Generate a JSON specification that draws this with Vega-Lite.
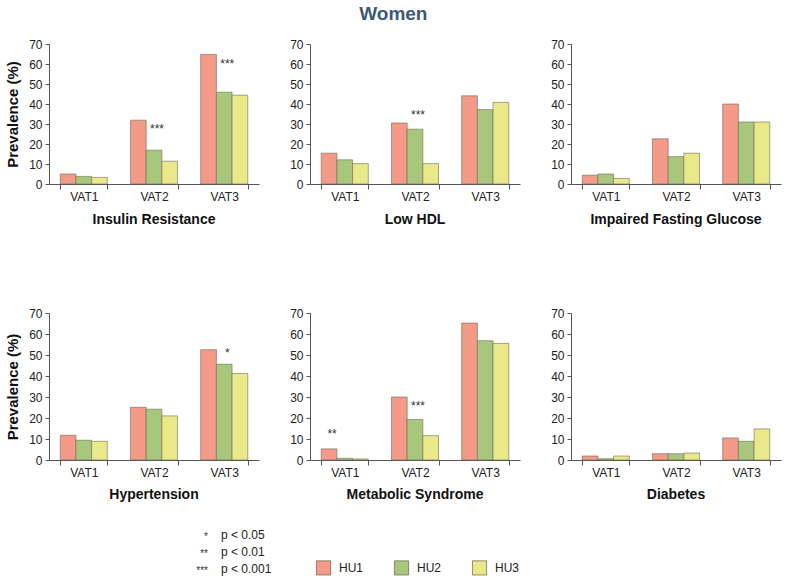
{
  "$schema": "https://vega.github.io/schema/vega-lite/v6.json",
  "padding": {"left": 5, "top": 5, "right": 5, "bottom": 5},
  "title": {"text": "Women", "fontSize": 19, "fontWeight": "bold", "color": "#3d5877", "font": "Liberation Sans", "anchor": "middle", "offset": 14},
  "datasets": {
    "bars": [
      {"panel": "Insulin Resistance", "vat": "VAT1", "hu": "HU1", "value": 5.0},
      {"panel": "Insulin Resistance", "vat": "VAT1", "hu": "HU2", "value": 3.8},
      {"panel": "Insulin Resistance", "vat": "VAT1", "hu": "HU3", "value": 3.3},
      {"panel": "Insulin Resistance", "vat": "VAT2", "hu": "HU1", "value": 31.9},
      {"panel": "Insulin Resistance", "vat": "VAT2", "hu": "HU2", "value": 16.9},
      {"panel": "Insulin Resistance", "vat": "VAT2", "hu": "HU3", "value": 11.4},
      {"panel": "Insulin Resistance", "vat": "VAT3", "hu": "HU1", "value": 64.8},
      {"panel": "Insulin Resistance", "vat": "VAT3", "hu": "HU2", "value": 45.9},
      {"panel": "Insulin Resistance", "vat": "VAT3", "hu": "HU3", "value": 44.4},
      {"panel": "Low HDL", "vat": "VAT1", "hu": "HU1", "value": 15.4},
      {"panel": "Low HDL", "vat": "VAT1", "hu": "HU2", "value": 12.1},
      {"panel": "Low HDL", "vat": "VAT1", "hu": "HU3", "value": 10.2},
      {"panel": "Low HDL", "vat": "VAT2", "hu": "HU1", "value": 30.5},
      {"panel": "Low HDL", "vat": "VAT2", "hu": "HU2", "value": 27.4},
      {"panel": "Low HDL", "vat": "VAT2", "hu": "HU3", "value": 10.2},
      {"panel": "Low HDL", "vat": "VAT3", "hu": "HU1", "value": 44.1},
      {"panel": "Low HDL", "vat": "VAT3", "hu": "HU2", "value": 37.2},
      {"panel": "Low HDL", "vat": "VAT3", "hu": "HU3", "value": 40.8},
      {"panel": "Impaired Fasting Glucose", "vat": "VAT1", "hu": "HU1", "value": 4.4},
      {"panel": "Impaired Fasting Glucose", "vat": "VAT1", "hu": "HU2", "value": 5.0},
      {"panel": "Impaired Fasting Glucose", "vat": "VAT1", "hu": "HU3", "value": 2.8},
      {"panel": "Impaired Fasting Glucose", "vat": "VAT2", "hu": "HU1", "value": 22.6},
      {"panel": "Impaired Fasting Glucose", "vat": "VAT2", "hu": "HU2", "value": 13.7},
      {"panel": "Impaired Fasting Glucose", "vat": "VAT2", "hu": "HU3", "value": 15.4},
      {"panel": "Impaired Fasting Glucose", "vat": "VAT3", "hu": "HU1", "value": 40.0},
      {"panel": "Impaired Fasting Glucose", "vat": "VAT3", "hu": "HU2", "value": 31.0},
      {"panel": "Impaired Fasting Glucose", "vat": "VAT3", "hu": "HU3", "value": 31.0},
      {"panel": "Hypertension", "vat": "VAT1", "hu": "HU1", "value": 11.8},
      {"panel": "Hypertension", "vat": "VAT1", "hu": "HU2", "value": 9.4},
      {"panel": "Hypertension", "vat": "VAT1", "hu": "HU3", "value": 8.9},
      {"panel": "Hypertension", "vat": "VAT2", "hu": "HU1", "value": 25.1},
      {"panel": "Hypertension", "vat": "VAT2", "hu": "HU2", "value": 24.2},
      {"panel": "Hypertension", "vat": "VAT2", "hu": "HU3", "value": 21.0},
      {"panel": "Hypertension", "vat": "VAT3", "hu": "HU1", "value": 52.5},
      {"panel": "Hypertension", "vat": "VAT3", "hu": "HU2", "value": 45.6},
      {"panel": "Hypertension", "vat": "VAT3", "hu": "HU3", "value": 41.2},
      {"panel": "Metabolic Syndrome", "vat": "VAT1", "hu": "HU1", "value": 5.3},
      {"panel": "Metabolic Syndrome", "vat": "VAT1", "hu": "HU2", "value": 0.8},
      {"panel": "Metabolic Syndrome", "vat": "VAT1", "hu": "HU3", "value": 0.5},
      {"panel": "Metabolic Syndrome", "vat": "VAT2", "hu": "HU1", "value": 30.0},
      {"panel": "Metabolic Syndrome", "vat": "VAT2", "hu": "HU2", "value": 19.3},
      {"panel": "Metabolic Syndrome", "vat": "VAT2", "hu": "HU3", "value": 11.6},
      {"panel": "Metabolic Syndrome", "vat": "VAT3", "hu": "HU1", "value": 65.2},
      {"panel": "Metabolic Syndrome", "vat": "VAT3", "hu": "HU2", "value": 56.8},
      {"panel": "Metabolic Syndrome", "vat": "VAT3", "hu": "HU3", "value": 55.5},
      {"panel": "Diabetes", "vat": "VAT1", "hu": "HU1", "value": 1.9},
      {"panel": "Diabetes", "vat": "VAT1", "hu": "HU2", "value": 0.6},
      {"panel": "Diabetes", "vat": "VAT1", "hu": "HU3", "value": 1.9},
      {"panel": "Diabetes", "vat": "VAT2", "hu": "HU1", "value": 3.0},
      {"panel": "Diabetes", "vat": "VAT2", "hu": "HU2", "value": 3.0},
      {"panel": "Diabetes", "vat": "VAT2", "hu": "HU3", "value": 3.3},
      {"panel": "Diabetes", "vat": "VAT3", "hu": "HU1", "value": 10.5},
      {"panel": "Diabetes", "vat": "VAT3", "hu": "HU2", "value": 8.9},
      {"panel": "Diabetes", "vat": "VAT3", "hu": "HU3", "value": 14.8}
    ],
    "stars": [
      {"panel": "Insulin Resistance", "vat": "VAT2", "hu": "HU2", "sig": "***", "level": 29.0},
      {"panel": "Insulin Resistance", "vat": "VAT3", "hu": "HU2", "sig": "***", "level": 61.4},
      {"panel": "Low HDL", "vat": "VAT2", "hu": "HU2", "sig": "***", "level": 35.9},
      {"panel": "Hypertension", "vat": "VAT3", "hu": "HU2", "sig": "*", "level": 52.5},
      {"panel": "Metabolic Syndrome", "vat": "VAT1", "hu": "HU1", "sig": "**", "level": 13.6},
      {"panel": "Metabolic Syndrome", "vat": "VAT2", "hu": "HU2", "sig": "***", "level": 27.3}
    ],
    "key": [
      {"sig": "*", "label": "p < 0.05"},
      {"sig": "**", "label": "p < 0.01"},
      {"sig": "***", "label": "p < 0.001"}
    ]
  },
  "vconcat": [
    {
      "vconcat": [
        {
          "hconcat": [
            {
              "width": 210, "height": 140,
              "title": {"text": "Insulin Resistance", "orient": "bottom", "frame": "group", "anchor": "middle", "fontSize": 14, "fontWeight": "bold", "color": "#111111", "font": "Liberation Sans", "offset": 11},
              "layer": [
                {"data": {"name": "bars"}, "transform": [{"filter": "datum.panel === 'Insulin Resistance'"}],
                 "mark": {"type": "bar", "stroke": "#6e6a55", "strokeWidth": 0.6},
                 "encoding": {
                   "x": {"field": "vat", "type": "nominal", "scale": {"paddingInner": 0.33, "paddingOuter": 0.16}, "axis": {"title": null, "labelAngle": 0, "tickBand": "extent"}},
                   "xOffset": {"field": "hu", "type": "nominal", "scale": {"paddingInner": 0, "domain": ["HU1", "HU2", "HU3"]}},
                   "y": {"field": "value", "type": "quantitative", "scale": {"domain": [0, 70]}, "axis": {"title": "Prevalence (%)", "values": [0, 10, 20, 30, 40, 50, 60, 70], "labelOverlap": false}},
                   "color": {"field": "hu", "type": "nominal", "scale": {"domain": ["HU1", "HU2", "HU3"], "range": ["#f39a88", "#a8c77c", "#e9e98a"]}, "legend": {"orient": "none", "legendX": 267, "legendY": 516, "direction": "horizontal", "title": null, "symbolType": "square", "symbolSize": 200, "symbolStrokeColor": "#7a6e58", "symbolStrokeWidth": 0.8, "symbolOpacity": 1, "labelFontSize": 12, "labelFont": "Liberation Sans", "labelColor": "#222222", "labelOffset": 8, "columnPadding": 28}}
                 }},
                {"data": {"name": "stars"}, "transform": [{"filter": "datum.panel === 'Insulin Resistance'"}],
                 "mark": {"type": "text", "fontSize": 12, "color": "#333333", "baseline": "middle", "dy": 3, "dx": 3},
                 "encoding": {"x": {"field": "vat", "type": "nominal"}, "xOffset": {"field": "hu", "type": "nominal"}, "y": {"field": "level", "type": "quantitative", "scale": {"domain": [0, 70]}, "axis": {"title": "Prevalence (%)", "values": [0, 10, 20, 30, 40, 50, 60, 70], "labelOverlap": false}}, "text": {"field": "sig"}}}
              ]
            },
            {
              "width": 210, "height": 140,
              "title": {"text": "Low HDL", "orient": "bottom", "frame": "group", "anchor": "middle", "fontSize": 14, "fontWeight": "bold", "color": "#111111", "font": "Liberation Sans", "offset": 11},
              "layer": [
                {"data": {"name": "bars"}, "transform": [{"filter": "datum.panel === 'Low HDL'"}],
                 "mark": {"type": "bar", "stroke": "#6e6a55", "strokeWidth": 0.6},
                 "encoding": {
                   "x": {"field": "vat", "type": "nominal", "scale": {"paddingInner": 0.33, "paddingOuter": 0.16}, "axis": {"title": null, "labelAngle": 0, "tickBand": "extent"}},
                   "xOffset": {"field": "hu", "type": "nominal", "scale": {"paddingInner": 0, "domain": ["HU1", "HU2", "HU3"]}},
                   "y": {"field": "value", "type": "quantitative", "scale": {"domain": [0, 70]}, "axis": {"title": null, "values": [0, 10, 20, 30, 40, 50, 60, 70], "labelOverlap": false}},
                   "color": {"field": "hu", "type": "nominal", "scale": {"domain": ["HU1", "HU2", "HU3"], "range": ["#f39a88", "#a8c77c", "#e9e98a"]}, "legend": {"orient": "none", "legendX": 267, "legendY": 516, "direction": "horizontal", "title": null, "symbolType": "square", "symbolSize": 200, "symbolStrokeColor": "#7a6e58", "symbolStrokeWidth": 0.8, "symbolOpacity": 1, "labelFontSize": 12, "labelFont": "Liberation Sans", "labelColor": "#222222", "labelOffset": 8, "columnPadding": 28}}
                 }},
                {"data": {"name": "stars"}, "transform": [{"filter": "datum.panel === 'Low HDL'"}],
                 "mark": {"type": "text", "fontSize": 12, "color": "#333333", "baseline": "middle", "dy": 3, "dx": 3},
                 "encoding": {"x": {"field": "vat", "type": "nominal"}, "xOffset": {"field": "hu", "type": "nominal"}, "y": {"field": "level", "type": "quantitative", "scale": {"domain": [0, 70]}, "axis": {"title": null, "values": [0, 10, 20, 30, 40, 50, 60, 70], "labelOverlap": false}}, "text": {"field": "sig"}}}
              ]
            },
            {
              "width": 210, "height": 140,
              "title": {"text": "Impaired Fasting Glucose", "orient": "bottom", "frame": "group", "anchor": "middle", "fontSize": 14, "fontWeight": "bold", "color": "#111111", "font": "Liberation Sans", "offset": 11},
              "layer": [
                {"data": {"name": "bars"}, "transform": [{"filter": "datum.panel === 'Impaired Fasting Glucose'"}],
                 "mark": {"type": "bar", "stroke": "#6e6a55", "strokeWidth": 0.6},
                 "encoding": {
                   "x": {"field": "vat", "type": "nominal", "scale": {"paddingInner": 0.33, "paddingOuter": 0.16}, "axis": {"title": null, "labelAngle": 0, "tickBand": "extent"}},
                   "xOffset": {"field": "hu", "type": "nominal", "scale": {"paddingInner": 0, "domain": ["HU1", "HU2", "HU3"]}},
                   "y": {"field": "value", "type": "quantitative", "scale": {"domain": [0, 70]}, "axis": {"title": null, "values": [0, 10, 20, 30, 40, 50, 60, 70], "labelOverlap": false}},
                   "color": {"field": "hu", "type": "nominal", "scale": {"domain": ["HU1", "HU2", "HU3"], "range": ["#f39a88", "#a8c77c", "#e9e98a"]}, "legend": {"orient": "none", "legendX": 267, "legendY": 516, "direction": "horizontal", "title": null, "symbolType": "square", "symbolSize": 200, "symbolStrokeColor": "#7a6e58", "symbolStrokeWidth": 0.8, "symbolOpacity": 1, "labelFontSize": 12, "labelFont": "Liberation Sans", "labelColor": "#222222", "labelOffset": 8, "columnPadding": 28}}
                 }}
              ]
            }
          ],
          "spacing": 30
        },
        {
          "hconcat": [
            {
              "width": 210, "height": 147,
              "title": {"text": "Hypertension", "orient": "bottom", "frame": "group", "anchor": "middle", "fontSize": 14, "fontWeight": "bold", "color": "#111111", "font": "Liberation Sans", "offset": 10},
              "layer": [
                {"data": {"name": "bars"}, "transform": [{"filter": "datum.panel === 'Hypertension'"}],
                 "mark": {"type": "bar", "stroke": "#6e6a55", "strokeWidth": 0.6},
                 "encoding": {
                   "x": {"field": "vat", "type": "nominal", "scale": {"paddingInner": 0.33, "paddingOuter": 0.16}, "axis": {"title": null, "labelAngle": 0, "tickBand": "extent"}},
                   "xOffset": {"field": "hu", "type": "nominal", "scale": {"paddingInner": 0, "domain": ["HU1", "HU2", "HU3"]}},
                   "y": {"field": "value", "type": "quantitative", "scale": {"domain": [0, 70]}, "axis": {"title": "Prevalence (%)", "values": [0, 10, 20, 30, 40, 50, 60, 70], "labelOverlap": false}},
                   "color": {"field": "hu", "type": "nominal", "scale": {"domain": ["HU1", "HU2", "HU3"], "range": ["#f39a88", "#a8c77c", "#e9e98a"]}, "legend": {"orient": "none", "legendX": 267, "legendY": 516, "direction": "horizontal", "title": null, "symbolType": "square", "symbolSize": 200, "symbolStrokeColor": "#7a6e58", "symbolStrokeWidth": 0.8, "symbolOpacity": 1, "labelFontSize": 12, "labelFont": "Liberation Sans", "labelColor": "#222222", "labelOffset": 8, "columnPadding": 28}}
                 }},
                {"data": {"name": "stars"}, "transform": [{"filter": "datum.panel === 'Hypertension'"}],
                 "mark": {"type": "text", "fontSize": 12, "color": "#333333", "baseline": "middle", "dy": 3, "dx": 3},
                 "encoding": {"x": {"field": "vat", "type": "nominal"}, "xOffset": {"field": "hu", "type": "nominal"}, "y": {"field": "level", "type": "quantitative", "scale": {"domain": [0, 70]}, "axis": {"title": "Prevalence (%)", "values": [0, 10, 20, 30, 40, 50, 60, 70], "labelOverlap": false}}, "text": {"field": "sig"}}}
              ]
            },
            {
              "width": 210, "height": 147,
              "title": {"text": "Metabolic Syndrome", "orient": "bottom", "frame": "group", "anchor": "middle", "fontSize": 14, "fontWeight": "bold", "color": "#111111", "font": "Liberation Sans", "offset": 10},
              "layer": [
                {"data": {"name": "bars"}, "transform": [{"filter": "datum.panel === 'Metabolic Syndrome'"}],
                 "mark": {"type": "bar", "stroke": "#6e6a55", "strokeWidth": 0.6},
                 "encoding": {
                   "x": {"field": "vat", "type": "nominal", "scale": {"paddingInner": 0.33, "paddingOuter": 0.16}, "axis": {"title": null, "labelAngle": 0, "tickBand": "extent"}},
                   "xOffset": {"field": "hu", "type": "nominal", "scale": {"paddingInner": 0, "domain": ["HU1", "HU2", "HU3"]}},
                   "y": {"field": "value", "type": "quantitative", "scale": {"domain": [0, 70]}, "axis": {"title": null, "values": [0, 10, 20, 30, 40, 50, 60, 70], "labelOverlap": false}},
                   "color": {"field": "hu", "type": "nominal", "scale": {"domain": ["HU1", "HU2", "HU3"], "range": ["#f39a88", "#a8c77c", "#e9e98a"]}, "legend": {"orient": "none", "legendX": 267, "legendY": 516, "direction": "horizontal", "title": null, "symbolType": "square", "symbolSize": 200, "symbolStrokeColor": "#7a6e58", "symbolStrokeWidth": 0.8, "symbolOpacity": 1, "labelFontSize": 12, "labelFont": "Liberation Sans", "labelColor": "#222222", "labelOffset": 8, "columnPadding": 28}}
                 }},
                {"data": {"name": "stars"}, "transform": [{"filter": "datum.panel === 'Metabolic Syndrome'"}],
                 "mark": {"type": "text", "fontSize": 12, "color": "#333333", "baseline": "middle", "dy": 3, "dx": 3},
                 "encoding": {"x": {"field": "vat", "type": "nominal"}, "xOffset": {"field": "hu", "type": "nominal"}, "y": {"field": "level", "type": "quantitative", "scale": {"domain": [0, 70]}, "axis": {"title": null, "values": [0, 10, 20, 30, 40, 50, 60, 70], "labelOverlap": false}}, "text": {"field": "sig"}}}
              ]
            },
            {
              "width": 210, "height": 147,
              "title": {"text": "Diabetes", "orient": "bottom", "frame": "group", "anchor": "middle", "fontSize": 14, "fontWeight": "bold", "color": "#111111", "font": "Liberation Sans", "offset": 10},
              "layer": [
                {"data": {"name": "bars"}, "transform": [{"filter": "datum.panel === 'Diabetes'"}],
                 "mark": {"type": "bar", "stroke": "#6e6a55", "strokeWidth": 0.6},
                 "encoding": {
                   "x": {"field": "vat", "type": "nominal", "scale": {"paddingInner": 0.33, "paddingOuter": 0.16}, "axis": {"title": null, "labelAngle": 0, "tickBand": "extent"}},
                   "xOffset": {"field": "hu", "type": "nominal", "scale": {"paddingInner": 0, "domain": ["HU1", "HU2", "HU3"]}},
                   "y": {"field": "value", "type": "quantitative", "scale": {"domain": [0, 70]}, "axis": {"title": null, "values": [0, 10, 20, 30, 40, 50, 60, 70], "labelOverlap": false}},
                   "color": {"field": "hu", "type": "nominal", "scale": {"domain": ["HU1", "HU2", "HU3"], "range": ["#f39a88", "#a8c77c", "#e9e98a"]}, "legend": {"orient": "none", "legendX": 267, "legendY": 516, "direction": "horizontal", "title": null, "symbolType": "square", "symbolSize": 200, "symbolStrokeColor": "#7a6e58", "symbolStrokeWidth": 0.8, "symbolOpacity": 1, "labelFontSize": 12, "labelFont": "Liberation Sans", "labelColor": "#222222", "labelOffset": 8, "columnPadding": 28}}
                 }}
              ]
            }
          ],
          "spacing": 30
        }
      ],
      "spacing": 80
    },
    {
      "width": 330, "height": 51,
      "data": {"name": "key"},
      "layer": [
        {"mark": {"type": "text", "fontSize": 10, "color": "#333333", "align": "right", "baseline": "middle", "dx": -6, "dy": 2},
         "encoding": {"y": {"field": "sig", "type": "ordinal", "sort": null, "axis": null}, "text": {"field": "sig"}}},
        {"mark": {"type": "text", "fontSize": 12, "color": "#222222", "align": "left", "baseline": "middle", "dx": 7},
         "encoding": {"y": {"field": "sig", "type": "ordinal", "sort": null, "axis": null}, "text": {"field": "label"}}}
      ]
    }
  ],
  "spacing": 24,
  "config": {
    "view": {"stroke": null},
    "font": "Liberation Sans",
    "axis": {"grid": false, "labelFont": "Liberation Sans", "labelFontSize": 12, "labelColor": "#222222", "domainColor": "#555555", "tickColor": "#555555", "tickSize": 4, "labelPadding": 3, "titleFont": "Liberation Sans", "titleFontSize": 15, "titleFontWeight": "bold", "titleColor": "#111111", "titlePadding": 8},
    "axisX": {"tickSize": 5, "labelPadding": 2}
  }
}
